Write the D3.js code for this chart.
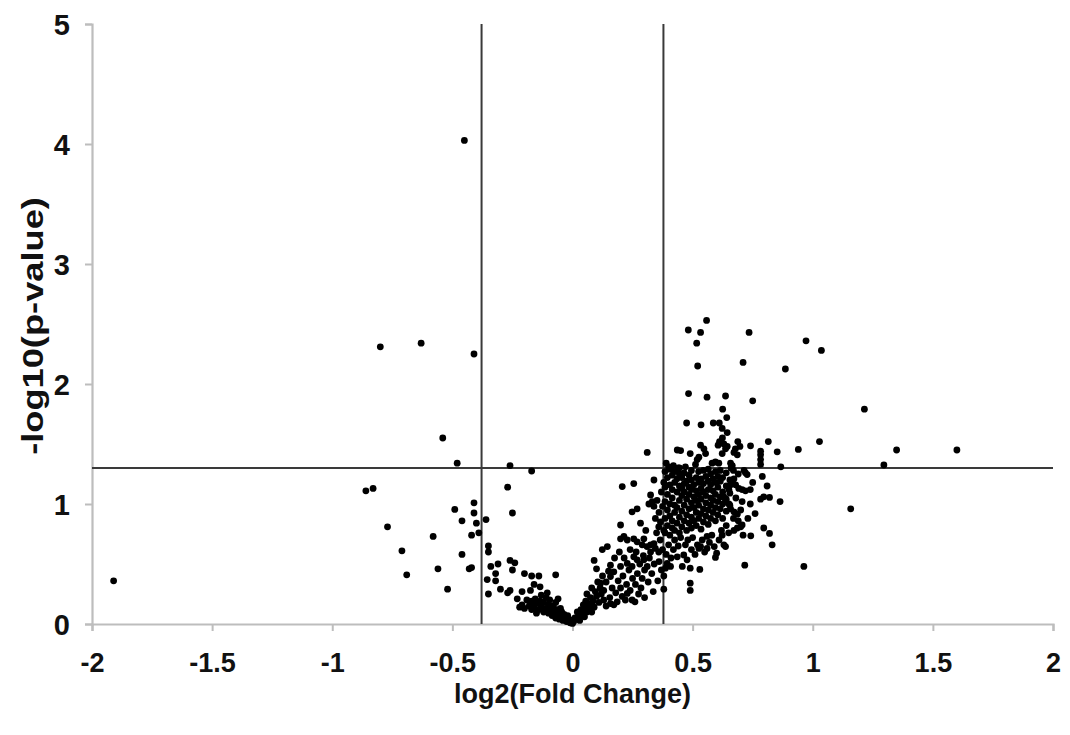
<!DOCTYPE html>
<html>
<head>
<meta charset="utf-8">
<script src="https://cdn.jsdelivr.net/npm/d3@7"></script>
<style>
  html, body { margin: 0; padding: 0; background: #fff; }
  svg { display: block; }
  text { font-family: "Liberation Sans", Arial, Helvetica, sans-serif; font-weight: bold; fill: #111; }
</style>
</head>
<body>
<svg id="chart" width="1070" height="735"></svg>
<script>
// Volcano plot: log2 fold change vs -log10(p-value)

const xTicks = [-2, -1.5, -1, -0.5, 0, 0.5, 1, 1.5, 2];
const yTicks = [0, 1, 2, 3, 4, 5];
const xTitle = "log2(Fold Change)";
const yTitle = "-log10(p-value)";

// Cut-offs: fold change 1.3 and p = 0.05
const fcCut = 0.3785;
const pCut = 1.301;

// Proteins with negative fold change beyond the cut-off
const leftOutliers = [
  [-1.91,0.36],[-0.45,4.03],[-0.80,2.31],[-0.63,2.34],[-0.41,2.25],[-0.54,1.55],[-0.48,1.34],
  [-0.86,1.11],[-0.83,1.13],[-0.41,1.01],[-0.49,0.955],[-0.41,0.925],[-0.46,0.86],[-0.40,0.84],
  [-0.77,0.81],[-0.58,0.73],[-0.42,0.74],[-0.39,0.76],[-0.71,0.61],[-0.46,0.58],[-0.69,0.41],
  [-0.56,0.46],[-0.43,0.46],[-0.42,0.47],[-0.52,0.29]
];

// Negative side between the cut-off and zero
const leftArm = [
  [-0.26,1.32],[-0.17,1.275],[-0.27,1.14],[-0.36,0.87],[-0.25,0.925],[-0.35,0.65],[-0.35,0.60],
  [-0.26,0.53],[-0.24,0.51],[-0.34,0.48],[-0.31,0.50],[-0.32,0.42],[-0.355,0.37],[-0.32,0.36],
  [-0.25,0.45],[-0.20,0.42],[-0.17,0.40],[-0.14,0.40],[-0.07,0.41],[-0.35,0.25],[-0.30,0.29],
  [-0.27,0.26],[-0.26,0.28],[-0.21,0.27],[-0.175,0.28],[-0.16,0.33],[-0.135,0.31],[-0.105,0.26],
  [-0.20,0.13],[-0.175,0.17],[-0.19,0.20],[-0.18,0.15],[-0.17,0.19],[-0.16,0.14],[-0.155,0.21],
  [-0.15,0.17],[-0.14,0.12],[-0.135,0.19],[-0.13,0.15],[-0.12,0.10],[-0.12,0.18],[-0.11,0.13],
  [-0.10,0.16],[-0.10,0.09],[-0.09,0.12],[-0.085,0.07],[-0.08,0.15],[-0.075,0.10],[-0.07,0.05],
  [-0.065,0.12],[-0.06,0.08],[-0.055,0.04],[-0.05,0.13],[-0.05,0.06],[-0.045,0.10],[-0.04,0.03],
  [-0.035,0.08],[-0.03,0.05],[-0.025,0.02],[-0.02,0.07],[-0.015,0.04],[-0.01,0.01],[-0.005,0.03],
  [0.0,0.005],[-0.11,0.22],[-0.095,0.20],[-0.13,0.24],[-0.07,0.18],[-0.06,0.21],[-0.15,0.09],
  [-0.17,0.12],[-0.21,0.16],[-0.23,0.21],[-0.22,0.14]
];

// Positive side below the fold-change cut-off
const rightArm = [
  [0.005,0.02],[0.01,0.05],[0.02,0.05],[0.02,0.10],[0.03,0.07],[0.03,0.03],[0.035,0.12],[0.04,0.09],
  [0.04,0.115],[0.045,0.16],[0.05,0.13],[0.05,0.06],[0.055,0.145],[0.055,0.19],[0.06,0.10],[0.06,0.25],
  [0.065,0.17],[0.07,0.13],[0.075,0.16],[0.075,0.22],[0.08,0.10],[0.08,0.30],[0.085,0.19],[0.09,0.14],
  [0.095,0.27],[0.10,0.23],[0.10,0.46],[0.09,0.53],[0.105,0.35],[0.11,0.18],[0.115,0.30],[0.117,0.34],
  [0.12,0.25],[0.124,0.62],[0.125,0.40],[0.13,0.28],[0.13,0.20],[0.14,0.15],[0.14,0.35],[0.145,0.645],
  [0.15,0.44],[0.155,0.22],[0.158,0.17],[0.158,0.49],[0.158,0.395],[0.165,0.30],[0.172,0.435],
  [0.172,0.16],[0.175,0.55],[0.18,0.26],[0.186,0.185],[0.19,0.36],[0.195,0.60],[0.20,0.48],[0.20,0.825],
  [0.20,0.71],[0.20,0.30],[0.207,0.23],[0.207,1.145],[0.21,0.40],[0.214,0.73],[0.215,0.55],[0.22,0.20],
  [0.225,0.33],[0.228,0.505],[0.228,0.70],[0.228,0.255],[0.235,0.45],[0.24,0.62],[0.24,0.28],
  [0.248,0.935],[0.248,0.48],[0.248,0.20],[0.25,0.38],[0.255,0.56],[0.255,0.71],[0.255,1.17],
  [0.26,0.185],[0.262,0.33],[0.265,0.60],[0.269,0.96],[0.269,0.685],[0.269,0.535],[0.27,0.42],
  [0.275,0.25],[0.28,0.50],[0.283,0.84],[0.285,0.30],[0.29,0.66],[0.29,0.38],[0.295,0.57],[0.297,0.71],
  [0.297,0.535],[0.30,0.45],[0.30,0.22],[0.305,0.78],[0.31,0.645],[0.311,0.48],[0.311,1.43],[0.315,0.35],
  [0.318,1.00],[0.32,0.55],[0.325,1.075],[0.325,0.66],[0.325,0.60],[0.33,0.42],[0.332,1.02],[0.336,0.27],
  [0.339,0.98],[0.339,1.20],[0.339,0.67],[0.34,0.50],[0.345,0.88],[0.345,0.63],[0.35,0.76],[0.352,1.03],
  [0.355,0.36],[0.359,0.81],[0.359,0.60],[0.36,0.93],[0.36,0.52],[0.365,0.70],[0.366,0.85],[0.37,0.45],
  [0.37,1.10],[0.375,0.62],[0.375,0.98],[0.38,0.29],[0.38,0.78],[0.38,1.18],[0.38,0.40]
];

// Dense core just past the fold-change cut-off
const denseCore = [
  [0.385,0.76],[0.385,0.88],[0.385,1.02],[0.385,1.14],[0.385,1.27],
  [0.395,0.82],[0.395,0.95],[0.395,1.08],[0.395,1.22],
  [0.405,0.74],[0.405,0.90],[0.405,1.00],[0.405,1.16],[0.405,1.29],
  [0.415,0.80],[0.415,0.86],[0.415,1.05],[0.415,1.12],[0.415,1.24],
  [0.425,0.78],[0.425,0.93],[0.425,0.99],[0.425,1.18],[0.425,1.27],
  [0.435,0.84],[0.435,0.97],[0.435,1.10],[0.435,1.21],
  [0.445,0.76],[0.445,0.89],[0.445,1.03],[0.445,1.15],[0.445,1.25],[0.445,1.30],
  [0.455,0.81],[0.455,0.94],[0.455,1.07],[0.455,1.13],[0.455,1.22],
  [0.465,0.86],[0.465,0.99],[0.465,1.10],[0.465,1.17],[0.465,1.26],
  [0.475,0.78],[0.475,0.91],[0.475,1.04],[0.475,1.19],
  [0.485,0.84],[0.485,0.96],[0.485,1.08],[0.485,1.14],[0.485,1.24],
  [0.495,0.80],[0.495,0.89],[0.495,1.01],[0.495,1.12],[0.495,1.20],[0.495,1.28],
  [0.505,0.86],[0.505,0.97],[0.505,1.06],[0.505,1.16],
  [0.515,0.82],[0.515,0.93],[0.515,1.03],[0.515,1.11],[0.515,1.22],
  [0.525,0.88],[0.525,0.99],[0.525,1.08],[0.525,1.18],[0.525,1.27],
  [0.535,0.79],[0.535,0.92],[0.535,1.04],[0.535,1.13],[0.535,1.21],
  [0.545,0.85],[0.545,0.96],[0.545,1.10],[0.545,1.17],[0.545,1.28],
  [0.555,0.90],[0.555,1.01],[0.555,1.07],[0.555,1.23],
  [0.565,0.83],[0.565,0.95],[0.565,1.12],[0.565,1.19],[0.565,1.29],
  [0.575,0.88],[0.575,0.99],[0.575,1.05],[0.575,1.16],[0.575,1.25],
  [0.585,0.93],[0.585,1.03],[0.585,1.11],[0.585,1.21],
  [0.595,0.86],[0.595,0.97],[0.595,1.08],[0.595,1.18],[0.595,1.27],
  [0.605,0.91],[0.605,1.02],[0.605,1.14],[0.605,1.23],
  [0.615,0.96],[0.615,1.06],[0.615,1.19],[0.615,1.28],
  [0.625,0.88],[0.625,1.00],[0.625,1.10],[0.625,1.22],
  [0.64,0.94],[0.64,1.04],[0.64,1.15],[0.64,1.26],
  [0.655,0.99],[0.655,1.09],[0.655,1.20]
];

// Lower flank of the positive cluster
const lowerFlank = [
  [0.387,0.465],[0.394,0.505],[0.408,0.48],[0.39,0.58],[0.40,0.66],[0.41,0.55],[0.42,0.62],[0.425,0.70],
  [0.436,0.56],[0.44,0.65],[0.45,0.72],[0.457,0.48],[0.463,0.575],[0.47,0.66],[0.477,0.535],[0.48,0.70],
  [0.49,0.465],[0.49,0.34],[0.49,0.28],[0.495,0.62],[0.50,0.72],[0.51,0.58],[0.52,0.66],[0.526,0.63],
  [0.53,0.455],[0.533,0.645],[0.54,0.70],[0.55,0.60],[0.56,0.63],[0.56,0.73],[0.57,0.68],[0.58,0.74],
  [0.59,0.645],[0.595,0.555],[0.60,0.59],[0.61,0.70],[0.62,0.78],[0.623,0.74],[0.63,0.66],[0.637,0.645],
  [0.64,0.82],[0.65,0.76]
];

// Outer edge of the positive cluster
const outerEdge = [
  [0.672,1.21],[0.665,1.19],[0.658,1.16],[0.651,1.12],[0.679,1.16],[0.692,1.13],[0.706,1.12],[0.72,1.11],
  [0.63,1.06],[0.637,1.03],[0.651,1.0],[0.658,0.96],[0.672,0.935],[0.686,0.915],[0.706,1.02],[0.783,1.04],
  [0.796,1.06],[0.82,1.055],[0.864,1.02],[0.672,0.78],[0.686,0.80],[0.70,0.81],[0.706,0.825],[0.796,0.80],
  [0.82,0.755],[0.742,0.735],[0.831,0.66],[0.717,0.49],[0.963,0.48],[0.714,1.28],[0.72,1.26],[0.727,1.245],
  [0.79,1.23],[0.81,1.15],[0.67,1.28],[0.69,1.25],[0.68,1.05],[0.70,0.95],[0.73,0.88],[0.74,1.00],
  [0.75,1.18],[0.76,0.92],[0.69,0.86],[0.67,0.88],[0.66,1.30],[0.74,1.12],[0.71,0.74],[1.158,0.96]
];

// Significant, positive fold change: just above the p cut-off
const aboveCut = [
  [0.39,1.34],[0.40,1.31],[0.42,1.32],[0.44,1.30],[0.436,1.45],[0.45,1.445],[0.49,1.42],[0.533,1.49],
  [0.547,1.46],[0.554,1.42],[0.526,1.39],[0.519,1.37],[0.512,1.33],[0.581,1.34],[0.595,1.35],[0.609,1.34],
  [0.612,1.52],[0.606,1.49],[0.623,1.42],[0.637,1.46],[0.644,1.48],[0.688,1.52],[0.678,1.46],[0.697,1.48],
  [0.672,1.43],[0.686,1.41],[0.741,1.485],[0.815,1.52],[0.852,1.435],[0.94,1.455],[1.028,1.52],[0.783,1.44],
  [0.783,1.41],[0.783,1.37],[0.783,1.33],[0.867,1.31],[1.349,1.45],[1.60,1.45],[1.296,1.325],[0.658,1.34],
  [0.665,1.32],[0.63,1.50],[0.624,1.55],[0.47,1.31]
];

// Significant, positive fold change: strongest hits
const topHits = [
  [0.558,2.53],[0.482,2.45],[0.533,2.43],[0.735,2.43],[0.517,2.34],[0.972,2.36],[1.036,2.28],[0.71,2.18],
  [0.521,2.15],[0.886,2.125],[0.483,1.92],[0.56,1.89],[0.637,1.90],[0.75,1.86],[1.215,1.79],[0.625,1.79],
  [0.642,1.72],[0.475,1.675],[0.535,1.66],[0.586,1.675],[0.611,1.675],[0.623,1.63],[0.644,1.595]
];

const points = [].concat(leftOutliers, leftArm, rightArm, denseCore, lowerFlank, outerEdge, aboveCut, topHits);

const svg = d3.select("#chart");
const margin = { top: 24, right: 17, bottom: 111, left: 92 };
const W = 1070, H = 735;

const x = d3.scaleLinear().domain([-2, 2]).range([margin.left, W - margin.right]);
const y = d3.scaleLinear().domain([0, 5]).range([H - margin.bottom, margin.top]);

const axisColor = "#bdbdbd";
const plainNumber = d => String(d);   // keeps the ASCII hyphen for negatives

// Axes
const xAxis = svg.append("g")
  .attr("transform", `translate(0,${y(0)})`)
  .call(d3.axisBottom(x).tickValues(xTicks).tickSize(7).tickPadding(22).tickFormat(plainNumber));
const yAxis = svg.append("g")
  .attr("transform", `translate(${x(-2)},0)`)
  .call(d3.axisLeft(y).tickValues(yTicks).tickSize(7).tickPadding(15).tickFormat(plainNumber));

[xAxis, yAxis].forEach(g => {
  g.select(".domain").attr("stroke", axisColor).attr("stroke-width", 2.2);
  g.selectAll(".tick line").attr("stroke", axisColor).attr("stroke-width", 2);
  g.selectAll(".tick text")
    .attr("fill", "#111")
    .style("font-weight", "bold")
    .style("font-family", "'Liberation Sans', Arial, sans-serif");
});
yAxis.selectAll(".tick text").style("font-size", "29px").attr("dy", "0.36em");
xAxis.selectAll(".tick text").style("font-size", "27px").attr("dy", "0.71em");

// Cut-off lines
const cutColor = "#3a3a3a";
svg.append("line")
  .attr("x1", x(-2)).attr("x2", x(2))
  .attr("y1", y(pCut)).attr("y2", y(pCut))
  .attr("stroke", cutColor).attr("stroke-width", 2);
[-fcCut, fcCut].forEach(v => {
  svg.append("line")
    .attr("x1", x(v)).attr("x2", x(v))
    .attr("y1", y(0)).attr("y2", y(5))
    .attr("stroke", cutColor).attr("stroke-width", 2);
});

// Points
svg.append("g")
  .selectAll("circle")
  .data(points)
  .join("circle")
  .attr("cx", d => x(d[0]))
  .attr("cy", d => y(d[1]))
  .attr("r", 3.4)
  .attr("fill", "#000");

// Axis titles
svg.append("text")
  .attr("x", (x(-2) + x(2)) / 2)
  .attr("y", 703)
  .attr("text-anchor", "middle")
  .style("font-size", "27px")
  .text(xTitle);

svg.append("text")
  .attr("transform", `translate(43,${(y(0) + y(5)) / 2 + 2}) rotate(-90) scale(1.25,1)`)
  .attr("text-anchor", "middle")
  .style("font-size", "29px")
  .text(yTitle);
</script>
</body>
</html>
